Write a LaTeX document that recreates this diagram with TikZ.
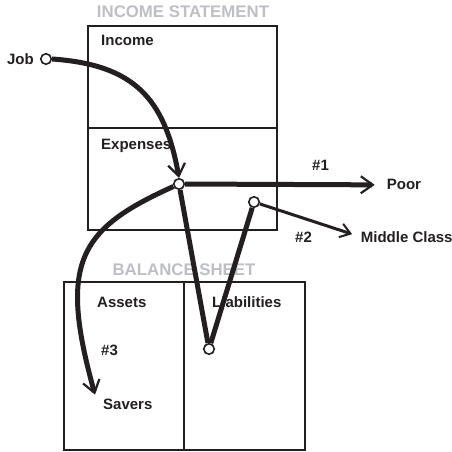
\documentclass[tikz,border=0pt]{standalone}
\usepackage{fontspec}
\setmainfont{Liberation Sans}
\usetikzlibrary{arrows.meta,positioning}
\definecolor{titlegray}{RGB}{190,191,196}
\definecolor{ink}{RGB}{35,31,32}

\begin{document}
\begin{tikzpicture}[x=1pt, y=1pt,
    panel/.style={draw=ink, line width=2pt, outer sep=0pt, inner sep=0pt},
    dot/.style={circle, draw=ink, fill=white, line width=1.6pt, minimum size=10.5pt, inner sep=0pt},
    lbl/.style={font=\fontsize{15}{17}\selectfont\bfseries, text=ink, inner sep=0pt},
    title/.style={font=\fontsize{16.8}{19}\selectfont\bfseries, text=titlegray, inner sep=0pt},
    flowarrow/.style={-{Straight Barb[length=12pt,width=17pt,line width=2.2pt]}, line width=5pt, draw=ink},
    thinarrow/.style={-{Straight Barb[length=10pt,width=14pt,line width=2pt]}, line width=3pt, draw=ink},
    bar/.style={line width=5pt, draw=ink}
]
\useasboundingbox (0,0) rectangle (452,452);

% Income statement
\node[title, anchor=base] (istitle) at (183,434) {INCOME STATEMENT};
\node[panel, minimum width=189pt, minimum height=102pt] (income) at (182.5,375) {};
\node[panel, minimum width=189pt, minimum height=102pt, below=0pt of income] (expenses) {};
\node[lbl, anchor=base west] (incometxt) at (101,406.5) {Income};
\node[lbl, anchor=base west] (expensestxt) at (101,302.7) {Expenses};

% Balance sheet
\node[title, anchor=base] (bstitle) at (184,176) {BALANCE SHEET};
\node[panel, minimum width=120pt, minimum height=168pt] (assets) at (124,86) {};
\node[panel, minimum width=121pt, minimum height=168pt, right=0pt of assets] (liabilities) {};
\node[lbl, anchor=base west] (assetstxt) at (97,144) {Assets};
\node[lbl, anchor=base west] (liabilitiestxt) at (212,144) {Liabilities};
\node[lbl, anchor=base west] (three) at (101,96) {\#3};
\node[lbl, anchor=base west] (savers) at (103,42.7) {Savers};

% Outside labels
\node[lbl, anchor=base west] (one) at (312,281) {\#1};
\node[lbl, anchor=base west] (poor) at (386.7,262) {Poor};
\node[lbl, anchor=base west] (two) at (295,209.7) {\#2};
\node[lbl, anchor=base west] (middle) at (360.7,209.7) {Middle Class};

% Cash flow points
\node[dot] (jobdot) at (46,393) {};
\node[lbl, left=6pt of jobdot] (job) {Job};
\node[dot] (hub) at (179,268) {};
\node[dot] (turn) at (254,250) {};
\node[dot] (dip) at (209,103) {};

% Flows
\draw[flowarrow] (jobdot.east) to[out=-4, in=100, looseness=1.2] (hub.north);
\draw[flowarrow, shorten >=12pt] (hub) -- (poor.west);
\draw[bar] (hub) -- (dip);
\draw[bar] (dip) -- (turn);
\draw[thinarrow, shorten >=9pt] (turn) -- (middle.west);
\draw[flowarrow] (hub) .. controls (79,223) and (58,190) .. ([shift={(-8,4)}]savers.north west);
\end{tikzpicture}
\end{document}
